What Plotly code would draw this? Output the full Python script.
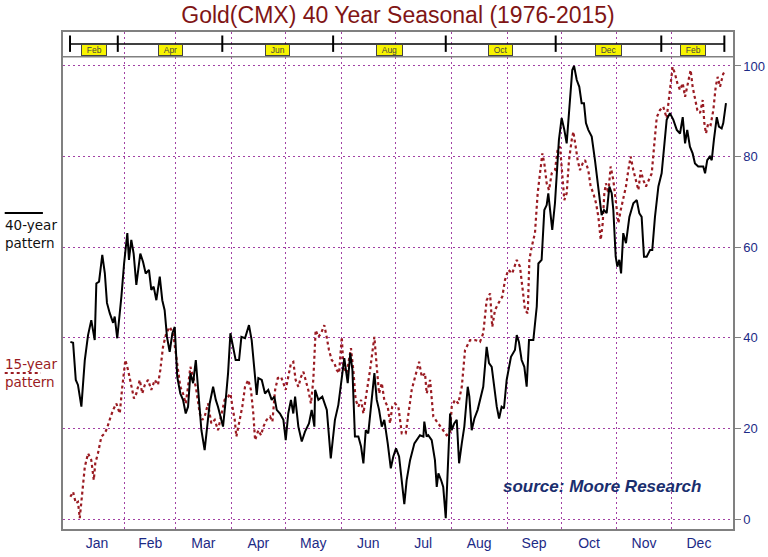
import plotly.graph_objects as go

# day of year (0 = Jan 1) and seasonal index
day40 = [0.7, 2.2, 3.7, 4.9, 6.8, 8.7, 10.5, 12.3, 14.2, 15.1, 16.6, 18.4, 19.8, 21.0, 22.5, 24.4, 25.3,
         26.7, 29.0, 30.5, 32.3, 33.2, 34.5, 35.8, 37.3, 39.5, 41.0, 42.5, 44.3, 45.6, 46.9, 48.4, 50.3,
         51.7, 53.0, 54.3, 55.8, 57.3, 58.6, 60.0, 61.7, 63.2, 64.7, 66.0, 67.3, 68.8, 70.3, 72.1, 73.4,
         75.2, 76.5, 78.0, 79.9, 81.4, 82.6, 83.6, 85.4, 86.9, 88.2, 89.5, 90.9, 92.4, 94.3, 95.6, 97.6,
         99.8, 101.3, 103.2, 104.1, 105.0, 106.9, 108.7, 110.5, 112.4, 113.9, 115.2, 117.0, 118.9, 120.2,
         121.6, 123.1, 124.4, 125.4, 127.2, 129.1, 130.9, 133.1, 134.6, 136.1, 136.5, 138.3, 140.5, 143.0,
         145.2, 147.5, 149.4, 151.3, 152.7, 154.6, 156.0, 157.2, 158.6, 160.5, 162.0, 163.3, 164.6, 166.0,
         167.9, 169.4, 170.7, 172.0, 173.5, 174.9, 176.8, 178.5, 179.9, 181.4, 183.1, 184.6, 186.0, 187.3,
         189.2, 191.6, 194.7, 196.6, 197.1, 198.4, 199.3, 201.2, 203.0, 204.0, 204.9, 206.4, 207.6, 209.0,
         210.1, 211.4, 212.3, 213.7, 215.1, 216.4, 217.9, 219.3, 221.2, 222.1, 223.4, 224.9, 226.7, 228.6,
         229.8, 231.7, 233.0, 234.5, 235.9, 237.3, 238.6, 240.0, 241.3, 242.8, 245.2, 247.4, 248.4, 249.6,
         251.1, 252.6, 253.9, 255.2, 257.6, 259.5, 260.4, 262.2, 263.7, 265.0, 265.9, 266.9, 268.1, 269.6,
         270.6, 271.8, 273.3, 274.8, 276.1, 278.0, 279.2, 280.2, 281.7, 283.1, 284.4, 285.7, 286.8, 288.1,
         290.0, 291.8, 293.1, 294.6, 295.5, 296.8, 298.3, 299.8, 301.1, 302.0, 303.3, 304.2, 305.3, 306.3,
         307.5, 309.0, 310.9, 313.1, 315.0, 316.4, 317.7, 319.0, 320.5, 322.4, 323.6, 325.1, 327.0, 328.8,
         330.1, 331.6, 333.4, 335.3, 337.2, 339.0, 340.5, 341.8, 343.0, 344.5, 346.0, 347.3, 349.1, 351.9,
         352.9, 354.1, 355.6, 356.6, 357.8, 359.4, 360.6, 362.1, 363.0, 364.5]
val40 = [39.1, 38.9, 30.7, 29.6, 24.8, 35.1, 40.6, 43.9, 39.5, 52.0, 52.4, 58.3, 54.3, 47.7, 45.5, 43.3, 44.7,
         39.9, 49.1, 56.4, 63.1, 57.2, 61.6, 58.6, 51.7, 58.6, 56.8, 54.2, 55.0, 50.6, 51.3, 48.3, 53.5,
         48.3, 46.1, 40.2, 36.9, 41.0, 42.4, 31.4, 27.7, 26.3, 23.3, 24.8, 32.2, 30.0, 35.1, 25.5, 19.6,
         15.2, 20.4, 25.5, 29.2, 26.3, 24.8, 23.3, 20.4, 26.3, 32.2, 41.0, 38.0, 35.1, 35.1, 40.2, 39.9,
         42.8, 39.5, 31.4, 27.4, 31.1, 30.7, 27.7, 28.5, 26.3, 27.0, 24.1, 23.3, 21.9, 17.4,
         23.3, 26.3, 23.3, 27.0, 20.4, 17.1, 19.3, 21.1, 24.1, 20.4, 28.5, 26.3, 27.0, 24.1,
         13.4, 21.9, 25.2, 30.7, 35.5, 30.0, 36.6, 32.9, 18.2, 18.2, 16.0, 12.3, 19.6, 18.9,
         26.3, 32.2, 26.3, 24.1, 20.4, 21.9, 16.7, 11.2, 13.8, 15.6, 13.8, 7.9, 3.3, 8.6,
         13.0, 16.7, 18.5, 18.2, 21.5, 18.2, 18.5, 17.4, 13.0, 7.1, 10.1, 8.6, 7.1, 0.2,
         13.0, 23.3, 19.6, 21.1, 21.9, 12.3, 16.7, 20.4, 29.2, 27.0, 19.6, 22.2, 24.1, 27.0,
         29.2, 38.0, 34.4, 33.6, 29.2, 24.8, 22.2, 24.8, 24.4, 30.7, 35.8, 37.3, 40.6, 39.1,
         35.1, 33.6, 29.2, 39.5, 39.5, 46.9, 56.4, 57.2, 68.2, 69.3, 71.9, 68.2, 63.8, 69.7,
         76.3, 83.7, 88.5, 85.9, 82.9, 94.0, 99.1, 100.0, 96.9, 95.4, 91.8, 91.8, 87.4, 85.9,
         84.4, 79.2, 74.8, 70.4, 67.1, 68.2, 67.5, 73.4, 71.9, 68.2, 57.9, 55.7, 57.2, 54.2,
         63.1, 60.9, 66.7, 69.7, 70.4, 67.5, 66.7, 57.9, 57.9, 59.4, 59.4, 66.7, 73.4, 76.3,
         81.5, 88.1, 89.6, 88.1, 85.9, 85.1, 88.7, 82.9, 85.9, 82.2, 80.7, 78.5, 77.8, 77.8,
         76.3, 79.2, 80.0, 79.2, 83.7, 88.7, 86.6, 86.2, 87.4, 91.8]

day15 = [0.7, 2.2, 3.7, 4.9, 5.9, 7.3, 8.7, 10.5, 12.3, 13.7, 14.5, 16.0, 17.9, 19.8, 21.0, 22.5, 24.4,
         26.2, 28.1, 29.5, 31.2, 32.7, 34.5, 36.0, 37.3, 39.2, 40.6, 42.0, 43.8, 45.6, 47.5, 49.3, 50.6,
         52.1, 53.9, 55.8, 57.7, 59.2, 60.4, 61.7, 63.2, 64.7, 66.0, 67.3, 68.8, 70.3, 72.5, 73.9, 75.2,
         77.1, 78.9, 80.8, 82.6, 84.5, 86.3, 88.2, 89.5, 90.9, 91.9, 92.8, 94.7, 96.1, 97.6, 99.4, 100.9,
         102.2, 103.2, 105.0, 106.5, 107.8, 109.6, 111.5, 112.8, 114.3, 115.8, 117.6, 118.9, 120.2, 121.6,
         123.1, 124.4, 125.7, 127.2, 128.7, 130.0, 131.3, 132.7, 134.2, 135.5, 136.8, 138.3, 139.8, 141.6,
         142.9, 144.2, 145.7, 147.2, 148.5, 149.8, 151.3, 152.2, 154.0, 156.4, 157.7, 159.0, 160.5, 162.0,
         163.3, 165.1, 167.0, 168.2, 169.4, 170.7, 172.0, 173.5, 174.9, 176.8, 178.1, 179.3, 180.8, 182.7,
         184.6, 186.8, 188.6, 190.1, 192.0, 194.2, 195.7, 197.5, 198.4, 200.3, 202.1, 204.9, 207.6, 209.5,
         211.4, 212.3, 214.1, 216.0, 217.9, 219.7, 222.5, 225.3, 228.0, 229.8, 231.7, 233.6, 234.8, 236.3,
         238.2, 240.4, 241.9, 243.7, 245.9, 248.4, 250.2, 251.5, 253.0, 254.5, 255.4, 256.7, 258.5, 260.0,
         261.3, 262.6, 263.7, 265.0, 266.3, 267.8, 269.6, 271.1, 272.4, 273.7, 274.8, 276.1, 277.4, 278.9,
         279.8, 281.1, 282.2, 283.5, 285.0, 286.3, 288.1, 289.4, 290.9, 292.4, 293.7, 295.0, 296.1, 297.0,
         297.9, 299.2, 300.5, 302.0, 303.5, 304.8, 306.1, 307.5, 309.0, 310.3, 311.6, 313.1, 314.6, 315.9,
         317.2, 318.6, 320.1, 321.6, 323.3, 324.6, 326.1, 327.9, 329.7, 331.6, 332.5, 333.8, 334.9, 336.2,
         337.5, 339.0, 340.5, 341.8, 343.0, 344.2, 344.9, 346.0, 347.3, 348.6, 350.1, 351.6, 352.5, 353.4,
         354.7, 356.0, 357.5, 358.8, 359.9, 361.2, 362.1, 363.0, 364.0]
val15 = [4.9, 6.0, 3.5, 3.8, 0.2, 5.7, 11.5, 14.5, 13.0, 8.6, 12.3, 14.5, 18.2, 18.9, 20.0, 21.9, 24.1,
         25.5, 23.3, 29.2, 35.1, 32.9, 29.2, 26.6, 27.7, 30.7, 27.7, 29.6, 30.7, 28.5, 30.7, 29.6, 32.9,
         38.0, 41.0, 42.4, 41.0, 36.6, 32.9, 29.2, 27.7, 25.5, 29.2, 33.6, 31.4, 29.2, 23.3, 21.9, 22.6,
         25.5, 21.1, 21.9, 19.6, 23.3, 26.3, 27.0, 27.7, 24.1, 21.9, 18.2, 21.9, 24.8, 29.2, 30.7, 28.5,
         23.3, 17.4, 19.6, 18.5, 20.4, 21.9, 22.6, 21.5, 28.5, 31.1, 31.4, 30.0, 28.5, 31.4,
         34.4, 34.7, 30.7, 29.2, 31.4, 32.5, 30.7, 28.5, 25.5, 30.7, 41.7, 40.2, 41.0, 42.8,
         40.2, 37.3, 35.1, 34.4, 32.9, 32.2, 40.2, 33.6, 32.2, 37.7, 32.9, 26.3, 24.8, 26.3,
         23.3, 27.7, 32.9, 36.6, 40.2, 33.6, 27.7, 30.0, 26.3, 24.8, 21.1, 24.8, 25.5, 24.8,
         18.9, 18.9, 24.1, 28.5, 31.4, 34.7, 31.4, 32.2, 27.7, 30.7, 22.6, 21.1, 19.6, 18.5,
         18.9, 24.8, 26.3, 25.5, 29.2, 37.3, 39.5, 39.5, 39.1, 41.0, 48.3, 49.8, 42.4, 46.1,
         47.6, 49.1, 52.8, 55.0, 54.2, 57.2, 55.7, 50.6, 46.1, 45.4, 57.2, 60.1, 63.1, 71.9,
         76.3, 80.7, 78.5, 74.1, 72.6, 76.3, 77.0, 81.5, 82.2, 74.8, 70.4, 71.9, 79.2, 83.7,
         85.5, 82.2, 79.2, 77.0, 78.5, 79.2, 77.0, 73.4, 71.9, 69.7, 66.7, 61.6, 65.3, 71.9,
         74.1, 71.9, 77.8, 74.8, 68.9, 65.3, 68.2, 70.4, 73.4, 77.0, 80.0, 77.0, 74.8, 72.6,
         77.0, 74.8, 73.4, 74.8, 76.3, 82.2, 88.7, 90.3, 91.0, 88.5, 91.8, 96.9, 99.8, 98.3,
         96.2, 94.7, 96.2, 93.2, 95.4, 97.6, 99.1, 95.4, 92.5, 90.3, 89.6, 92.5, 87.4, 85.1,
         87.4, 87.0, 90.3, 95.4, 97.6, 95.4, 96.9, 98.3, 98.8]

months = ["Jan", "Feb", "Mar", "Apr", "May", "Jun", "Jul", "Aug", "Sep", "Oct", "Nov", "Dec"]
month_start = [0, 31, 59, 90, 120, 151, 181, 212, 243, 273, 304, 334, 365]

# active futures contract and the day it rolls in
contracts = ["Feb", "Apr", "Jun", "Aug", "Oct", "Dec", "Feb"]
contract_roll = [0.5, 27, 85, 146.5, 209, 270, 328.6, 363.6]

navy = "#1c2a86"
darkred = "#9a1b22"
grid = "#a240a4"
dots = "2px,3px"

fig = go.Figure()
fig.add_trace(go.Scatter(x=day15, y=val15, mode="lines",
                         line=dict(color=darkred, width=2.2, dash="3px,3px")))
fig.add_trace(go.Scatter(x=day40, y=val40, mode="lines",
                         line=dict(color="black", width=2)))

mid = [(month_start[i] + month_start[i + 1]) / 2 for i in range(12)]

fig.update_layout(
    width=768, height=557,
    margin=dict(l=63, r=35, t=32, b=28),
    plot_bgcolor="white", paper_bgcolor="white",
    showlegend=False,
    title=dict(text="Gold(CMX) 40 Year Seasonal (1976-2015)", x=0.5, xref="paper", xanchor="center",
               y=0.973, yanchor="middle",
               font=dict(family="Liberation Sans, Arial", size=23, color="#801515")),
    xaxis=dict(range=[-3.4, 368.4], tickvals=mid, ticktext=months, ticks="", showgrid=False,
               zeroline=False, showline=True, mirror=True, linecolor="#808080", linewidth=1.5,
               automargin=False,
               tickfont=dict(family="Liberation Sans, Arial", size=14, color=navy),
               minor=dict(tickmode="array", tickvals=month_start[1:12], showgrid=True,
                          gridcolor=grid, griddash=dots, gridwidth=1.2, ticks="")),
    yaxis=dict(range=[-2.2, 107.5], side="right", tickvals=[0, 20, 40, 60, 80, 100],
               ticks="outside", ticklen=6, tickcolor="#808080", showgrid=True, gridcolor=grid,
               griddash=dots, gridwidth=1.2, zeroline=False, showline=True, mirror=True,
               linecolor="#808080", linewidth=1.5, automargin=False,
               tickfont=dict(family="Liberation Sans, Arial", size=13, color=navy)),
)

# contract strip at the top
fig.add_shape(type="line", xref="paper", yref="paper", x0=0, x1=1, y0=0.95, y1=0.95,
              line=dict(color="#808080", width=1.5))
fig.add_shape(type="line", xref="x", yref="paper", x0=contract_roll[0], x1=contract_roll[-1],
              y0=0.976, y1=0.976, line=dict(color="black", width=1.5))
for r in contract_roll:
    fig.add_shape(type="line", xref="x", yref="paper", x0=r, x1=r, y0=0.96, y1=0.993,
                  line=dict(color="black", width=2))
for i, c in enumerate(contracts):
    fig.add_annotation(x=(contract_roll[i] + contract_roll[i + 1]) / 2, y=0.976, xref="x", yref="paper",
                       text="&nbsp;&nbsp;" + c + "&nbsp;&nbsp;", showarrow=False, bgcolor="#f8f400",
                       bordercolor="#444444", borderwidth=1, borderpad=0,
                       font=dict(family="Liberation Sans, Arial", size=8.5, color="#444444"))

# side legend
fig.add_shape(type="line", xref="paper", yref="paper", x0=-0.087, x1=-0.03, y0=0.636, y1=0.636,
              line=dict(color="black", width=2))
fig.add_annotation(x=-0.09, y=0.594, xref="paper", yref="paper", xanchor="left", align="left",
                   text="40-year<br>pattern", showarrow=False,
                   font=dict(family="DejaVu Sans", size=13.5, color="#111111"))
fig.add_shape(type="line", xref="paper", yref="paper", x0=-0.087, x1=-0.033, y0=0.314, y1=0.314,
              line=dict(color=darkred, width=2, dash="3px,3px"))
fig.add_annotation(x=-0.09, y=0.276, xref="paper", yref="paper", xanchor="left", align="left",
                   text="15-year<br>pattern", showarrow=False,
                   font=dict(family="DejaVu Sans", size=13.5, color=darkred))

fig.add_annotation(x=0.804, y=0.085, xref="paper", yref="paper", xanchor="center", yanchor="middle",
                   text="<b><i>source: Moore Research</i></b>", showarrow=False,
                   font=dict(family="Liberation Sans, Arial", size=17, color="#1a2e6e"))

# drop the browser's default page margin so the figure sits at the window's corner
fig.write_html("out.html", config={"displayModeBar": False},
               post_script="document.body.style.margin = '0';")
